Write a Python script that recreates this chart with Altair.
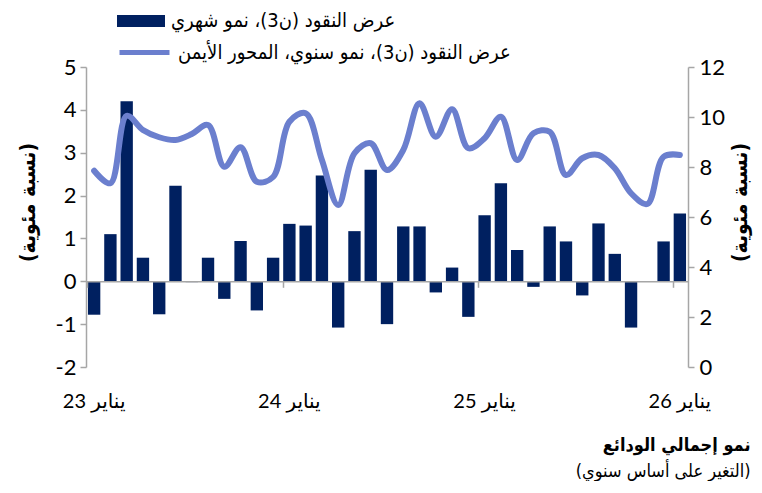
import altair as alt
import pandas as pd

months = [f"{y}-{m:02d}" for y in range(2023, 2027) for m in range(1, 13)][:37]
monthly = [-0.78, 1.10, 4.20, 0.55, -0.77, 2.23, -0.02, 0.55, -0.41, 0.94, -0.68, 0.55,
           1.34, 1.30, 2.47, -1.08, 1.17, 2.60, -1.00, 1.28, 1.28, -0.26, 0.32, -0.83,
           1.54, 2.29, 0.73, -0.13, 1.28, 0.93, -0.33, 1.35, 0.64, -1.08, 0.0, 0.93, 1.58]
annual = [7.85, 7.35, 10.05, 9.48, 9.19, 9.08, 9.32, 9.68, 8.01, 8.79, 7.41, 7.60,
          9.81, 10.15, 8.28, 6.48, 8.55, 8.95, 7.88, 8.68, 10.55, 9.21, 10.31, 8.75,
          9.15, 10.01, 8.28, 9.35, 9.41, 7.68, 8.35, 8.48, 7.95, 6.95, 6.52, 8.41, 8.48]
year_ticks = ["2023-01", "2024-01", "2025-01", "2026-01"]
left_ticks = [-2, -1, 0, 1, 2, 3, 4, 5]
right_ticks = [0, 2, 4, 6, 8, 10, 12]

bar_name = "عرض النقود (ن3)، نمو شهري"
line_name = "عرض النقود (ن3)، نمو سنوي، المحور الأيمن"
axis_title = "(نسبة مئوية)"
caption = "نمو إجمالي الودائع"
subcaption = "(التغير على أساس سنوي)"

df = pd.DataFrame({"month": months, "monthly": monthly, "annual": annual,
                   "s1": bar_name, "s2": line_name})

AR = "DejaVu Sans Condensed, DejaVu Sans"
NUM = "Lato, DejaVu Sans"
GRAY = "#A6A6A6"
NAVY = "#002060"
LINEC = "#6B7FCE"

xscale = alt.Scale(paddingInner=0.24, paddingOuter=0.12)

bars = alt.Chart(df).mark_bar(color=NAVY).encode(
    x=alt.X("month:O", sort=None, scale=xscale,
            axis=alt.Axis(values=year_ticks, labels=False, title=None, orient="bottom",
                          offset=-85.7, domainColor=GRAY, domainWidth=1.5, tickColor=GRAY,
                          tickSize=6, tickWidth=1.5, bandPosition=0, grid=False, zindex=1)),
    y=alt.Y("monthly:Q", scale=alt.Scale(domain=[-2, 5], nice=False, zero=False),
            axis=alt.Axis(values=left_ticks, orient="left", title=axis_title, grid=False,
                          domainColor=GRAY, domainWidth=1.5, tickColor=GRAY, tickWidth=1.5,
                          tickSize=6, labelFont=NUM, labelFontSize=22, labelColor="black",
                          labelPadding=4, labelExpr="toString(datum.value)",
                          titleFont=AR, titleFontSize=21, titleFontWeight="bold",
                          titleColor="black", titlePadding=17, titleY=135)),
    fill=alt.Fill("s1:N", scale=alt.Scale(range=[NAVY]),
                  legend=alt.Legend(orient="none", legendX=31, legendY=-70, title=None,
                                    symbolType="M-1,-0.25H1V0.25H-1Z", symbolSize=2304,
                                    symbolStrokeWidth=0, labelFont=AR, labelFontSize=20,
                                    labelColor="black", labelLimit=0, labelOffset=6)),
)

line = alt.Chart(df).mark_line(strokeWidth=6, interpolate="catmull-rom", strokeCap="round").encode(
    x=alt.X("month:O", sort=None, scale=xscale,
            axis=alt.Axis(values=year_ticks, orient="bottom", title=None, domain=False, ticks=False,
                          grid=False, labelAngle=0, labelPadding=24, labelFont=NUM,
                          labelFontSize=20, labelColor="black",
                          labelExpr="'يناير ' + substring(datum.value, 2, 4)")),
    y=alt.Y("annual:Q", scale=alt.Scale(domain=[0, 12], nice=False),
            axis=alt.Axis(values=right_ticks, orient="right", title=axis_title, grid=False,
                          domainColor=GRAY, domainWidth=1.5, tickColor=GRAY, tickWidth=1.5,
                          tickSize=6, labelFont=NUM, labelFontSize=22, labelColor="black",
                          labelPadding=5, titleFont=AR, titleFontSize=21, titleFontWeight="bold",
                          titleColor="black", titlePadding=26, titleAngle=270, titleY=135)),
    stroke=alt.Stroke("s2:N", scale=alt.Scale(range=[LINEC]),
                      legend=alt.Legend(orient="none", legendX=31, legendY=-42, title=None,
                                        symbolType="stroke", symbolSize=2500,
                                        symbolStrokeWidth=5, labelFont=AR, labelFontSize=20,
                                        labelColor="black", labelLimit=0, labelOffset=6)),
)

chart = alt.layer(bars, line).resolve_scale(
    y="independent", fill="independent", stroke="independent"
).resolve_axis(x="independent").properties(
    width=602, height=300,
    autosize=alt.AutoSizeParams(type="none"),
    padding={"left": 78, "top": 59, "right": 66, "bottom": 114},
    title=alt.TitleParams(text=caption, subtitle=subcaption, orient="bottom", anchor="end",
                          frame="bounds", font=AR, fontSize=18, fontWeight="bold", color="black",
                          subtitleFont=AR, subtitleFontSize=18, subtitleColor="black",
                          offset=26, subtitlePadding=8),
).configure_view(stroke=None)

chart.save("out.html", embed_options={"renderer": "svg", "actions": False})
